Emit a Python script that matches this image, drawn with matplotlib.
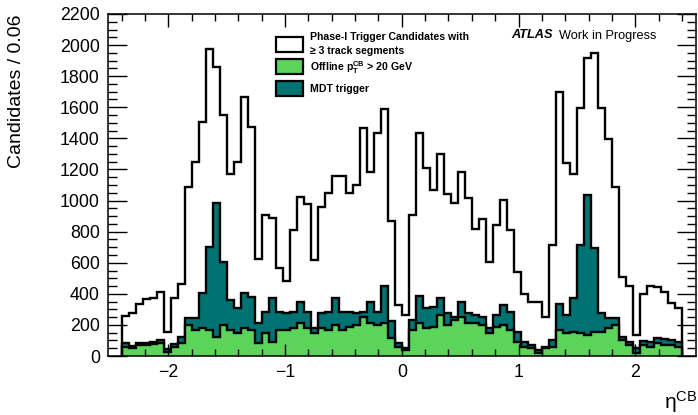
import numpy as np
import matplotlib.pyplot as plt
from matplotlib.patches import Rectangle
from matplotlib.ticker import MultipleLocator

plt.rcParams['font.family'] = ['Liberation Sans', 'DejaVu Sans']
plt.rcParams['mathtext.fontset'] = 'custom'
plt.rcParams['mathtext.rm'] = 'Liberation Sans'
plt.rcParams['mathtext.it'] = 'Liberation Sans:italic'
plt.rcParams['mathtext.bf'] = 'Liberation Sans:bold'

# 80 bins of 0.06 between -2.4 and 2.4
eta_lo = -2.4
bin_width = 0.06
n_bins = 80

# all Phase-I candidates with >= 3 track segments
total = [257, 274, 334, 364, 373, 411, 152, 371, 463, 1085,
         1245, 1507, 1974, 1860, 1550, 1170, 1250, 1664, 1470, 622,
         907, 886, 564, 484, 810, 1020, 977, 617, 960, 1050,
         1160, 1160, 1050, 1100, 1464, 1185, 1432, 1592, 870, 328,
         264, 907, 1432, 1207, 1068, 1299, 1042, 982, 1185, 1014,
         815, 879, 606, 842, 1003, 810, 542, 399, 349, 349,
         253, 714, 1700, 1239, 1170, 1593, 1914, 1951, 1593, 1393,
         1089, 510, 450, 135, 397, 450, 445, 414, 339, 307]

# MDT trigger
mdt = [81, 65, 81, 85, 92, 103, 45, 75, 120, 245,
       245, 407, 698, 985, 606, 360, 306, 407, 381, 214,
       285, 371, 285, 274, 285, 349, 285, 178, 274, 285,
       371, 285, 285, 274, 285, 349, 285, 450, 227, 81,
       49, 231, 386, 307, 313, 371, 274, 253, 349, 274,
       264, 253, 178, 264, 328, 285, 156, 92, 71, 39,
       60, 103, 334, 264, 371, 714, 1035, 697, 274, 242,
       242, 124, 92, 49, 97, 92, 114, 107, 103, 92]

# offline pT(CB) > 20 GeV
offline = [60, 50, 68, 70, 75, 85, 28, 55, 85, 199,
           167, 178, 167, 120, 199, 167, 146, 178, 167, 82,
           146, 92, 167, 167, 178, 210, 178, 146, 178, 167,
           199, 167, 189, 199, 253, 210, 199, 210, 114, 60,
           39, 167, 210, 178, 189, 264, 199, 231, 253, 210,
           210, 199, 146, 189, 199, 167, 92, 60, 49, 22,
           49, 60, 167, 146, 157, 146, 135, 157, 157, 178,
           199, 103, 71, 17, 71, 60, 82, 71, 71, 60]

edges = eta_lo + bin_width * np.arange(n_bins + 1)

green = '#5ad55a'
teal = '#007272'

fig = plt.figure(figsize=(6.98, 4.15), dpi=100)
ax = fig.add_axes([107.5 / 698, 59 / 415, (696 - 107.5) / 698, (356 - 14) / 415])

ax.stairs(total, edges, fill=True, facecolor='white', edgecolor='none')
ax.stairs(total, edges, baseline=0, color='black', lw=1.7)
ax.stairs(mdt, edges, fill=True, facecolor=teal, edgecolor='none')
ax.stairs(mdt, edges, baseline=0, color='black', lw=1.7)
ax.stairs(offline, edges, fill=True, facecolor=green, edgecolor='none')
ax.stairs(offline, edges, baseline=0, color='black', lw=1.7)

ax.set_xlim(-2.52, 2.52)
ax.set_ylim(0, 2200)
ax.set_xticks([-2, -1, 0, 1, 2])
ax.xaxis.set_minor_locator(MultipleLocator(0.2))
ax.yaxis.set_major_locator(MultipleLocator(200))
ax.yaxis.set_minor_locator(MultipleLocator(50))
ax.tick_params(which='both', direction='in', top=True, right=True, width=1.0)
ax.tick_params(axis='x', which='major', length=9, pad=6, labelsize=12.8)
ax.tick_params(axis='x', which='minor', length=5)
ax.tick_params(axis='y', which='major', length=13.5, pad=5.5, labelsize=12.8)
ax.tick_params(axis='y', which='minor', length=6.7)
for s in ax.spines.values():
    s.set_linewidth(1.1)

fig.text(17 / 698, 1 - 14 / 415, 'Candidates / 0.06', rotation=90,
         ha='center', va='top', fontsize=14)
fig.text(697 / 698, 1 - 402 / 415, 'η$^{\\mathrm{CB}}$', ha='right',
         va='center', fontsize=15)

# legend drawn by hand, ROOT style
boxes = [('white', 37), (green, 59.5), (teal, 81)]
for col, ytop in boxes:
    fig.patches.append(Rectangle((276 / 698, 1 - (ytop + 15) / 415), 27 / 698, 15 / 415,
                                 transform=fig.transFigure, facecolor=col,
                                 edgecolor='black', lw=1.6))
legend_txt = [('Phase-I Trigger Candidates with', 36.5),
              ('≥ 3 track segments', 51.5),
              (r'Offline $\mathbf{p_{T}^{CB}}$ > 20 GeV', 67.5),
              ('MDT trigger', 89)]
for txt, yc in legend_txt:
    fig.text(310 / 698, 1 - yc / 415, txt, ha='left', va='center',
             fontsize=7.6, fontweight='bold')

fig.text(511 / 698, 1 - 35.5 / 415, 'ATLAS', ha='left', va='center',
         fontsize=9.2, fontweight='bold', fontstyle='italic')
fig.text(559 / 698, 1 - 35.5 / 415, 'Work in Progress', ha='left', va='center',
         fontsize=9.2)

fig.savefig('out.png', dpi=100)
